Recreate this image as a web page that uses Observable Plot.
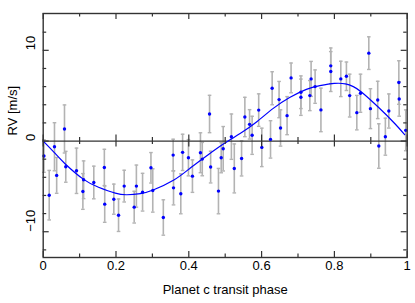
<!DOCTYPE html>
<html><head><meta charset="utf-8">
<script src="https://cdn.jsdelivr.net/npm/d3@7"></script>
<script src="https://cdn.jsdelivr.net/npm/@observablehq/plot@0.6"></script>
<style>html,body{margin:0;padding:0;background:#fff}#chart svg{display:block}</style>
</head><body><div id="chart"></div>
<script>
// Observations: phase, RV [m/s], 1-sigma error
const phase = [0.002,0.0165,0.031,0.037,0.0585,0.062,0.0915,0.109,0.111,0.139,0.168,0.169,0.194,0.207,0.2225,0.25,0.256,0.273,0.296,0.301,0.33,0.357,0.358,0.378,0.383,0.399,0.41,0.432,0.437,0.457,0.46,0.4815,0.489,0.4945,0.517,0.525,0.545,0.554,0.567,0.574,0.592,0.6006,0.6245,0.629,0.648,0.652,0.670,0.681,0.708,0.708,0.7325,0.736,0.747,0.763,0.790,0.790,0.8176,0.833,0.842,0.8616,0.8717,0.8945,0.899,0.919,0.922,0.940,0.9495,0.977,0.978,0.996];
const rv = [-1.65,-5.97,-0.63,-3.79,1.33,-2.84,-3.28,-5.56,-4.27,-4.57,-2.91,-6.96,-6.41,-8.18,-4.97,-7.29,-4.97,-5.64,-2.95,-5.45,-8.43,-1.55,-5.16,-5.82,-1.25,-1.84,-3.87,-1.29,-1.99,2.98,-2.87,-5.52,-1.84,-0.85,0.48,-3.02,-1.92,2.65,1.84,0.63,3.41,-0.70,0.18,5.82,4.57,1.44,2.80,6.96,5.38,4.83,5.01,6.85,6.0,3.43,8.29,7.66,6.85,7.14,5.01,3.13,5.27,9.69,3.57,4.53,-0.55,0.48,3.31,6.45,4.64,1.18];
const err = [1.8,2.73,2.65,1.97,2.65,1.7,2.5,1.97,2.08,1.8,2.0,2.0,1.66,1.79,1.75,1.75,2.32,2.08,1.68,2.39,1.95,1.75,1.88,2.2,2.0,2.0,1.79,2.2,1.84,2.06,1.75,2.5,1.66,2.45,2.5,2.7,1.93,2.17,1.62,2.1,1.79,2.12,2.06,1.82,2.0,2.0,2.1,1.64,1.8,2.0,1.66,1.93,1.84,2.4,1.97,2.2,1.95,1.57,2.36,1.9,2.1,1.8,2.2,2.06,2.45,2.04,1.88,2.4,1.9,2.25];

// Model curve
const curvePhase = [0,0.03,0.06,0.11,0.152,0.198,0.23,0.267,0.302,0.359,0.405,0.45,0.496,0.542,0.586,0.632,0.677,0.723,0.76,0.8,0.83,0.852,0.875,0.921,0.967,0.993];
const curveRv = [0,-1.25,-2.5,-4.2,-5.1,-5.75,-5.92,-5.8,-5.4,-4.3,-2.95,-1.6,-0.3,0.85,2.1,3.6,4.8,5.7,6.1,6.35,6.3,6.0,5.38,3.72,1.88,0.7];

// Axes
const xTicks = [0,0.2,0.4,0.6,0.8,1];
const xTickLabels = ["0","0.2","0.4","0.6","0.8","1"];
const xMinor = [0.1,0.3,0.5,0.7,0.9];
const yTicks = [-10,0,10];
const yTickLabels = ["\u221210","0","10"];
const yMinor = [-12,-8,-6,-4,-2,2,4,6,8,12];
const xDomain = [0,1];
const yDomain = [-12.84,14.06];
const xTitle = "Planet c transit phase";
const yTitle = "RV [m/s]";

const obs = phase.map((p,i)=>({p, v: rv[i], lo: rv[i]-err[i], hi: rv[i]+err[i]}));
const model = curvePhase.map((p,i)=>({p, v: curveRv[i]}));

const capSymbol = {draw(ctx, size){ const w = Math.sqrt(size/Math.PI); ctx.moveTo(-w,0); ctx.lineTo(w,0); }};
const axisCol = "#333";
const font = "'Liberation Sans', Arial, Helvetica, sans-serif";
const [x0,x1] = xDomain, [y0,y1] = yDomain;

function xTicksMarks(vals, len){
  return [
    Plot.ruleX(vals, {x: d=>d, y1: y0, y2: y0, insetTop: -len, insetBottom: 0, stroke: axisCol, strokeWidth: 1.2}),
    Plot.ruleX(vals, {x: d=>d, y1: y1, y2: y1, insetTop: 0, insetBottom: -len, stroke: axisCol, strokeWidth: 1.2}),
    Plot.ruleX(vals, {x: d=>d, y1: 0, y2: 0, insetTop: -len, insetBottom: -len, stroke: axisCol, strokeWidth: 1.2})
  ];
}
function yTicksMarks(vals, len){
  return [
    Plot.ruleY(vals, {y: d=>d, x1: x0, x2: x0, insetLeft: 0, insetRight: -len, stroke: axisCol, strokeWidth: 1.2}),
    Plot.ruleY(vals, {y: d=>d, x1: x1, x2: x1, insetLeft: -len, insetRight: 0, stroke: axisCol, strokeWidth: 1.2})
  ];
}

const chart = Plot.plot({
  width: 415, height: 303,
  marginLeft: 42.7, marginRight: 8.3, marginTop: 13, marginBottom: 46,
  style: {fontFamily: font, background: "#fff", color: "#000"},
  x: {domain: xDomain, axis: null},
  y: {domain: yDomain, axis: null},
  marks: [
    Plot.ruleX(obs, {x: "p", y1: "lo", y2: "hi", stroke: "#b3b3b3", strokeWidth: 1.6}),
    Plot.dot(obs, {x: "p", y: "lo", symbol: capSymbol, r: 1.8, stroke: "#b3b3b3", strokeWidth: 1.4, fill: "none"}),
    Plot.dot(obs, {x: "p", y: "hi", symbol: capSymbol, r: 1.8, stroke: "#b3b3b3", strokeWidth: 1.4, fill: "none"}),
    Plot.ruleY([0], {stroke: axisCol, strokeWidth: 1.3}),
    Plot.line(model, {x: "p", y: "v", stroke: "#0000ff", strokeWidth: 1.2, curve: "natural"}),
    Plot.dot(obs, {x: "p", y: "v", r: 1.7, fill: "#0000ff", stroke: "none"}),
    Plot.frame({stroke: axisCol, strokeWidth: 1.4}),
    ...xTicksMarks(xTicks, 6),
    ...xTicksMarks(xMinor, 3.5),
    ...yTicksMarks(yTicks, 6),
    ...yTicksMarks(yMinor, 3.5),
    Plot.text(xTicks, {x: d=>d, text: (d,i)=>xTickLabels[i], frameAnchor: "bottom", dy: 12, fontSize: 13, fill: "#000"}),
    Plot.text(yTicks, {y: d=>d, text: (d,i)=>yTickLabels[i], frameAnchor: "left", dx: -12.5, rotate: -90, fontSize: 13, fill: "#000"}),
    Plot.text([xTitle], {text: d=>d, frameAnchor: "bottom", dy: 36.5, fontSize: 13, fill: "#000", letterSpacing: "0.5px"}),
    Plot.text([yTitle], {text: d=>d, frameAnchor: "left", dx: -30.5, rotate: -90, fontSize: 13, fill: "#000", letterSpacing: "0.4px"})
  ]
});
document.getElementById("chart").appendChild(chart);
</script></body></html>
